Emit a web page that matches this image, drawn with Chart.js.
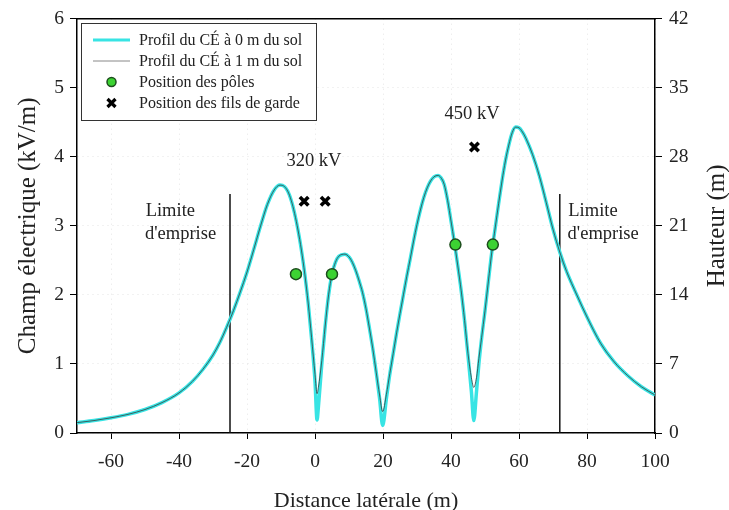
<!DOCTYPE html>
<html>
<head>
<meta charset="utf-8">
<script src="https://cdn.jsdelivr.net/npm/chart.js@4.4.0/dist/chart.umd.min.js"></script>
<style>
  html, body { margin: 0; padding: 0; background: #fff; }
</style>
</head>
<body>
<canvas id="champChart" width="729" height="510"></canvas>
<script>
// Distance latérale (m) et champ électrique (kV/m)
const distances = [-70, -65, -60, -55, -50, -45, -40, -36, -33, -30, -28, -26, -24, -22, -20, -18, -16, -14, -12, -10.3,
  -9, -8, -7, -6, -5, -4, -3, -2, -1, 0, 0.6, 1, 2, 3, 4, 5, 6, 7, 8.8, 10,
  11, 12, 13, 14, 15, 16, 17, 18, 19, 19.9, 21, 22, 23, 24, 25, 26, 27, 28, 29, 30,
  31, 32, 33, 34, 35, 36.2, 37, 38, 39, 40, 41, 42, 43, 44, 45, 46, 46.7, 47.5, 48.2, 49,
  50, 51, 52, 53, 54, 55, 56, 57, 58, 59, 60, 61, 62, 64, 66, 68, 70, 72, 74, 77,
  80, 84, 88, 92, 96, 100];

// profil à 0 m du sol
const champSol0 = [0.15, 0.18, 0.22, 0.27, 0.34, 0.44, 0.58, 0.75, 0.92, 1.13, 1.31, 1.53, 1.77, 2.04, 2.33, 2.66, 3.00, 3.31, 3.52, 3.59,
  3.57, 3.50, 3.37, 3.18, 2.94, 2.65, 2.30, 1.88, 1.36, 0.75, 0.19, 0.38, 1.00, 1.55, 2.00, 2.30, 2.47, 2.56, 2.59, 2.55,
  2.47, 2.35, 2.20, 2.03, 1.80, 1.52, 1.22, 0.88, 0.50, 0.11, 0.50, 0.85, 1.15, 1.45, 1.73, 2.00, 2.27, 2.52, 2.78, 3.02,
  3.23, 3.41, 3.55, 3.65, 3.71, 3.73, 3.70, 3.60, 3.37, 3.07, 2.76, 2.42, 2.06, 1.62, 1.12, 0.60, 0.18, 0.60, 1.00, 1.37,
  1.77, 2.20, 2.62, 2.97, 3.32, 3.65, 3.94, 4.17, 4.35, 4.43, 4.42, 4.36, 4.27, 4.03, 3.72, 3.34, 2.95, 2.62, 2.34, 2.00,
  1.68, 1.30, 1.03, 0.83, 0.67, 0.55];

// profil à 1 m du sol
const champSol1 = [0.15, 0.18, 0.22, 0.27, 0.34, 0.44, 0.58, 0.75, 0.92, 1.13, 1.31, 1.53, 1.77, 2.04, 2.33, 2.66, 3.00, 3.31, 3.52, 3.59,
  3.57, 3.50, 3.37, 3.18, 2.94, 2.65, 2.30, 1.88, 1.38, 0.85, 0.57, 0.66, 1.05, 1.55, 2.00, 2.30, 2.47, 2.56, 2.59, 2.55,
  2.47, 2.35, 2.20, 2.03, 1.80, 1.52, 1.22, 0.88, 0.55, 0.31, 0.56, 0.86, 1.15, 1.45, 1.73, 2.00, 2.27, 2.52, 2.78, 3.02,
  3.23, 3.41, 3.55, 3.65, 3.71, 3.73, 3.70, 3.60, 3.37, 3.07, 2.76, 2.42, 2.06, 1.63, 1.15, 0.80, 0.66, 0.80, 1.08, 1.38,
  1.77, 2.20, 2.62, 2.97, 3.32, 3.65, 3.94, 4.17, 4.35, 4.43, 4.42, 4.36, 4.27, 4.03, 3.72, 3.34, 2.95, 2.62, 2.34, 2.00,
  1.68, 1.30, 1.03, 0.83, 0.67, 0.55];

// conducteurs (hauteur en m, axe de droite)
const polesX = [-5.6, 5.0, 41.3, 52.3];
const polesH = [16.1, 16.1, 19.1, 19.1];
const gardeX = [-3.2, 3.0, 46.9];
const gardeH = [23.5, 23.5, 29.0];

// limites d'emprise
const empriseX = [-25, 72];
const empriseTop = 3.46;

const xTicks = [-60, -40, -20, 0, 20, 40, 60, 80, 100];
const yTicks = [0, 1, 2, 3, 4, 5, 6];
const hTicks = [0, 7, 14, 21, 28, 35, 42];

const serif = '"Liberation Serif", "DejaVu Serif", serif';
const cyan = 'rgb(56, 228, 228)';
const green = 'rgb(60, 210, 50)';

const toPoints = (xs, ys) => xs.map((x, i) => ({ x: x, y: ys[i] }));

// Textes dans le graphique
const labelsPlugin = {
    id: 'labels',
    afterDatasetsDraw(chart) {
        const { ctx, scales } = chart;
        const px = v => scales.x.getPixelForValue(v);
        const py = v => scales.y.getPixelForValue(v);
        ctx.save();
        ctx.fillStyle = '#222';
        ctx.font = '18.5px ' + serif;
        ctx.textBaseline = 'middle';
        ctx.textAlign = 'left';
        ctx.fillText('Limite', px(-49.8), py(3.22));
        ctx.fillText("d'emprise", px(-50.0), py(2.88));
        ctx.fillText('Limite', px(74.5), py(3.22));
        ctx.fillText("d'emprise", px(74.3), py(2.88));
        ctx.textAlign = 'center';
        ctx.fillText('320 kV', px(-0.3), py(3.94));
        ctx.fillText('450 kV', px(46.2), py(4.62));
        ctx.restore();
    }
};

// Titre de l'axe de droite, lu de bas en haut
const rightTitlePlugin = {
    id: 'rightTitle',
    afterDraw(chart) {
        const { ctx, chartArea } = chart;
        ctx.save();
        ctx.translate(717, (chartArea.top + chartArea.bottom) / 2);
        ctx.rotate(-Math.PI / 2);
        ctx.fillStyle = '#222';
        ctx.font = '25px ' + serif;
        ctx.textAlign = 'center';
        ctx.textBaseline = 'middle';
        ctx.fillText('Hauteur (m)', 0, 0);
        ctx.restore();
    }
};

// Légende encadrée en haut à gauche
const legendPlugin = {
    id: 'boxLegend',
    afterDraw(chart) {
        const { ctx } = chart;
        const x0 = 81, y0 = 23, w = 235, h = 97;
        ctx.save();
        ctx.fillStyle = '#fff';
        ctx.fillRect(x0, y0, w, h);
        ctx.strokeStyle = '#333';
        ctx.lineWidth = 1;
        ctx.strokeRect(x0 + 0.5, y0 + 0.5, w, h);

        const rows = [40, 61, 82, 103];
        // lignes
        ctx.strokeStyle = cyan;
        ctx.lineWidth = 3;
        ctx.beginPath(); ctx.moveTo(93, rows[0]); ctx.lineTo(130, rows[0]); ctx.stroke();
        ctx.strokeStyle = '#888';
        ctx.lineWidth = 1;
        ctx.beginPath(); ctx.moveTo(93, rows[1]); ctx.lineTo(130, rows[1]); ctx.stroke();
        // cercle vert
        ctx.fillStyle = green;
        ctx.strokeStyle = '#1d4d1d';
        ctx.lineWidth = 1.5;
        ctx.beginPath(); ctx.arc(111.5, rows[2], 4.5, 0, Math.PI * 2); ctx.fill(); ctx.stroke();
        // croix
        ctx.strokeStyle = '#000';
        ctx.lineWidth = 3.2;
        ctx.beginPath();
        ctx.moveTo(107.5, rows[3] - 4); ctx.lineTo(115.5, rows[3] + 4);
        ctx.moveTo(115.5, rows[3] - 4); ctx.lineTo(107.5, rows[3] + 4);
        ctx.stroke();

        ctx.fillStyle = '#222';
        ctx.font = '16px ' + serif;
        ctx.textBaseline = 'middle';
        ctx.textAlign = 'left';
        const names = chart.data.datasets.slice(0, 4).map(d => d.label);
        names.forEach((t, i) => ctx.fillText(t, 139, rows[i] + 1));
        ctx.restore();
    }
};

const ctx = document.getElementById('champChart').getContext('2d');
const champChart = new Chart(ctx, {
    type: 'scatter',
    data: {
        datasets: [{
            label: 'Profil du CÉ à 0 m du sol',
            data: toPoints(distances, champSol0),
            showLine: true,
            borderColor: cyan,
            borderWidth: 3.5,
            pointRadius: 0,
            cubicInterpolationMode: 'monotone',
            xAxisID: 'x', yAxisID: 'y',
            order: 2
        }, {
            label: 'Profil du CÉ à 1 m du sol',
            data: toPoints(distances, champSol1),
            showLine: true,
            borderColor: 'rgba(60, 70, 70, 0.85)',
            borderWidth: 1,
            pointRadius: 0,
            cubicInterpolationMode: 'monotone',
            xAxisID: 'x', yAxisID: 'y',
            order: 1
        }, {
            label: 'Position des pôles',
            data: toPoints(polesX, polesH),
            pointStyle: 'circle',
            pointRadius: 5.5,
            backgroundColor: green,
            borderColor: '#1d4d1d',
            borderWidth: 1.5,
            xAxisID: 'x', yAxisID: 'y2',
            order: 0
        }, {
            label: 'Position des fils de garde',
            data: toPoints(gardeX, gardeH),
            pointStyle: 'crossRot',
            pointRadius: 6,
            borderColor: '#000',
            borderWidth: 3.6,
            xAxisID: 'x', yAxisID: 'y2',
            order: 0
        }, ...empriseX.map(xe => ({
            label: 'emprise',
            data: [{ x: xe, y: 0 }, { x: xe, y: empriseTop }],
            showLine: true,
            borderColor: '#111',
            borderWidth: 1.5,
            pointRadius: 0,
            xAxisID: 'x', yAxisID: 'y',
            order: 3
        }))]
    },
    options: {
        responsive: false,
        devicePixelRatio: 1,
        animation: false,
        layout: { padding: 0 },
        plugins: {
            legend: { display: false },
            tooltip: { enabled: false }
        },
        scales: {
            x: {
                type: 'linear',
                position: 'bottom',
                min: -70,
                max: 100,
                afterBuildTicks: s => { s.ticks = xTicks.map(v => ({ value: v })); },
                afterFit: s => { s.height = 77; },
                ticks: {
                    color: '#222',
                    font: { family: serif, size: 19.5 },
                    padding: 11,
                    maxRotation: 0
                },
                grid: {
                    color: 'rgba(0,0,0,0.10)',
                    tickColor: '#000',
                    tickLength: 6,
                    lineWidth: 1
                },
                border: { display: true, color: '#000', width: 1.5, dash: [1, 4] },
                title: {
                    display: true,
                    text: 'Distance latérale (m)',
                    color: '#222',
                    font: { family: serif, size: 22 },
                    padding: { top: 0, bottom: -4 }
                }
            },
            xTop: {
                type: 'linear',
                position: 'top',
                min: -70,
                max: 100,
                afterFit: s => { s.height = 16; },
                ticks: { display: false },
                grid: { display: false },
                border: { display: true, color: '#000', width: 1.5 }
            },
            y: {
                type: 'linear',
                position: 'left',
                min: 0,
                max: 6,
                afterBuildTicks: s => { s.ticks = yTicks.map(v => ({ value: v })); },
                afterFit: s => { s.width = 77; },
                ticks: {
                    color: '#222',
                    font: { family: serif, size: 19.5 },
                    padding: 6
                },
                grid: {
                    color: 'rgba(0,0,0,0.10)',
                    tickColor: '#000',
                    tickLength: 7,
                    lineWidth: 1
                },
                border: { display: true, color: '#000', width: 1.5, dash: [1, 4] },
                title: {
                    display: true,
                    text: 'Champ électrique (kV/m)',
                    color: '#222',
                    font: { family: serif, size: 25 },
                    padding: { top: 13, bottom: 0 }
                }
            },
            y2: {
                type: 'linear',
                position: 'right',
                min: 0,
                max: 42,
                afterBuildTicks: s => { s.ticks = hTicks.map(v => ({ value: v })); },
                afterFit: s => { s.width = 74; },
                ticks: {
                    color: '#222',
                    font: { family: serif, size: 19.5 },
                    padding: 7
                },
                grid: {
                    drawOnChartArea: false,
                    tickColor: '#000',
                    tickLength: 7
                },
                border: { display: true, color: '#000', width: 1.5 },
                title: { display: false }
            }
        }
    },
    plugins: [labelsPlugin, rightTitlePlugin, legendPlugin]
});
</script>
</body>
</html>
